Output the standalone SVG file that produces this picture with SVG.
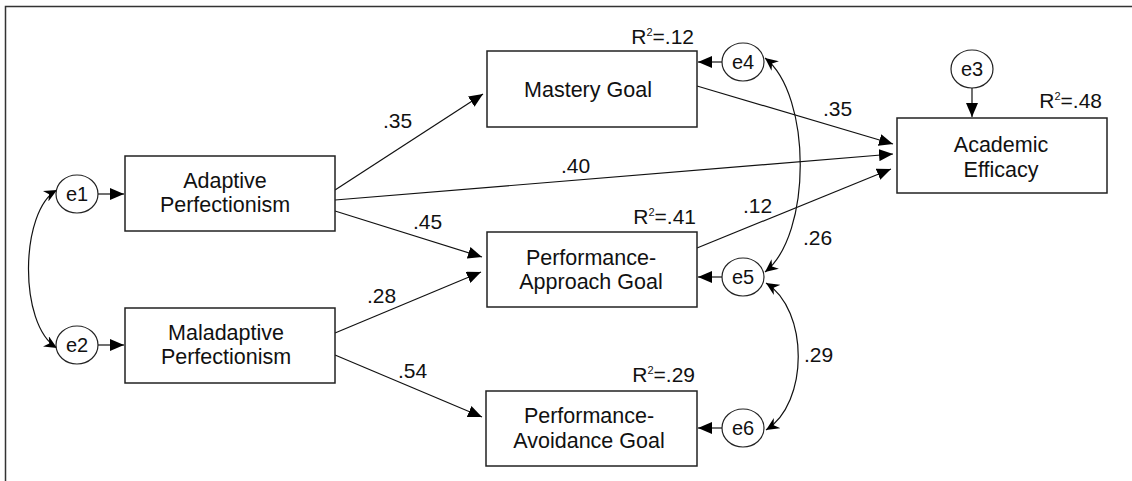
<svg xmlns="http://www.w3.org/2000/svg" width="1132" height="481" viewBox="0 0 1132 481">
<defs>
<marker id="ah" markerUnits="userSpaceOnUse" markerWidth="14" markerHeight="12" refX="14" refY="6" orient="auto">
<path d="M0,0 L14,6 L0,12 z" fill="#000"/>
</marker>
<marker id="ch" markerUnits="userSpaceOnUse" markerWidth="13" markerHeight="12" refX="13" refY="6" orient="auto-start-reverse">
<path d="M0,0 L13,6 L0,12 L4,6 z" fill="#000"/>
</marker>
<style>
.box{fill:#fff;stroke:#222;stroke-width:1.5}
.err{fill:#fff;stroke:#222;stroke-width:1.2}
.t{font-family:"Liberation Sans",Arial,sans-serif;font-size:21.5px;fill:#111;text-anchor:middle}
.et{font-family:"Liberation Sans",Arial,sans-serif;font-size:20px;fill:#111;text-anchor:middle}
.lb{font-family:"Liberation Sans",Arial,sans-serif;font-size:21px;fill:#111}
.r2{font-family:"Liberation Sans",Arial,sans-serif;font-size:21px;fill:#111;text-anchor:end}
.sup{font-size:11px}
.ln{fill:none;stroke:#111;stroke-width:1.2}
.frame{fill:none;stroke:#333;stroke-width:1.5}
</style>
</defs>
<rect width="1132" height="481" fill="#fff"/>
<path class="frame" d="M5.5,481 L5.5,6.5 L1132,6.5"/>

<g id="connectors">
<path class="ln" marker-end="url(#ah)" d="M98,194 L124,194"/>
<path class="ln" marker-end="url(#ah)" d="M98,345 L124,345"/>
<path class="ln" marker-end="url(#ah)" d="M722,62 L698,62"/>
<path class="ln" marker-end="url(#ah)" d="M722,277 L698,277"/>
<path class="ln" marker-end="url(#ah)" d="M722,428 L698,428"/>
<path class="ln" marker-end="url(#ah)" d="M972,88 L972,117"/>
<path class="ln" marker-end="url(#ah)" d="M335,190 L483,94"/>
<path class="ln" marker-end="url(#ah)" d="M335,200 L893,154"/>
<path class="ln" marker-end="url(#ah)" d="M335,211 L482,257"/>
<path class="ln" marker-end="url(#ah)" d="M335,333 L481,272"/>
<path class="ln" marker-end="url(#ah)" d="M335,355 L482,417"/>
<path class="ln" marker-end="url(#ah)" d="M697,86 L893,144"/>
<path class="ln" marker-end="url(#ah)" d="M697,248 L891,169"/>
<path class="ln" marker-start="url(#ch)" marker-end="url(#ch)" d="M57,190 C20,210 18,325 57,348"/>
<path class="ln" marker-start="url(#ch)" marker-end="url(#ch)" d="M765,58 C812,95 812,235 765,272"/>
<path class="ln" marker-start="url(#ch)" marker-end="url(#ch)" d="M766,283 C809,310 809,403 766,430"/>
<text class="lb" x="383" y="128">.35</text>
<text class="lb" x="561" y="173">.40</text>
<text class="lb" x="413" y="229">.45</text>
<text class="lb" x="367" y="303">.28</text>
<text class="lb" x="398" y="378">.54</text>
<text class="lb" x="823" y="116">.35</text>
<text class="lb" x="743" y="213">.12</text>
<text class="lb" x="803" y="245">.26</text>
<text class="lb" x="804" y="362">.29</text>
</g>

<g id="e1"><ellipse class="err" cx="77" cy="194" rx="21" ry="19"/><text class="et" x="77" y="200.5">e1</text></g>
<g id="e2"><ellipse class="err" cx="77" cy="345" rx="21" ry="19"/><text class="et" x="77" y="351.5">e2</text></g>
<g id="e3"><ellipse class="err" cx="972" cy="69" rx="21" ry="19"/><text class="et" x="972" y="75.5">e3</text></g>
<g id="e4"><ellipse class="err" cx="743" cy="62" rx="21" ry="19"/><text class="et" x="743" y="68.5">e4</text></g>
<g id="e5"><ellipse class="err" cx="743" cy="277" rx="21" ry="19"/><text class="et" x="743" y="283.5">e5</text></g>
<g id="e6"><ellipse class="err" cx="743" cy="428" rx="21" ry="19"/><text class="et" x="743" y="434.5">e6</text></g>

<g id="adaptive"><rect class="box" x="125" y="156" width="210" height="75"/>
<text class="t" x="225" y="188">Adaptive</text><text class="t" x="225" y="212">Perfectionism</text></g>
<g id="maladaptive"><rect class="box" x="125" y="308" width="210" height="75"/>
<text class="t" x="226" y="340">Maladaptive</text><text class="t" x="226" y="364">Perfectionism</text></g>
<g id="mastery"><rect class="box" x="487" y="51" width="210" height="76"/>
<text class="t" x="588" y="96.5">Mastery Goal</text>
<text class="r2" x="694" y="44">R<tspan class="sup" dy="-8">2</tspan><tspan dy="8">=.12</tspan></text></g>
<g id="perf-approach"><rect class="box" x="487" y="232" width="210" height="75"/>
<text class="t" x="591" y="265">Performance-</text><text class="t" x="591" y="289">Approach Goal</text>
<text class="r2" x="696" y="224">R<tspan class="sup" dy="-8">2</tspan><tspan dy="8">=.41</tspan></text></g>
<g id="perf-avoidance"><rect class="box" x="486" y="391" width="211" height="75"/>
<text class="t" x="589" y="423">Performance-</text><text class="t" x="589" y="448">Avoidance Goal</text>
<text class="r2" x="695" y="382">R<tspan class="sup" dy="-8">2</tspan><tspan dy="8">=.29</tspan></text></g>
<g id="efficacy"><rect class="box" x="897" y="118" width="210" height="75"/>
<text class="t" x="1001" y="152">Academic</text><text class="t" x="1001" y="177">Efficacy</text>
<text class="r2" x="1102" y="108">R<tspan class="sup" dy="-8">2</tspan><tspan dy="8">=.48</tspan></text></g>
</svg>
